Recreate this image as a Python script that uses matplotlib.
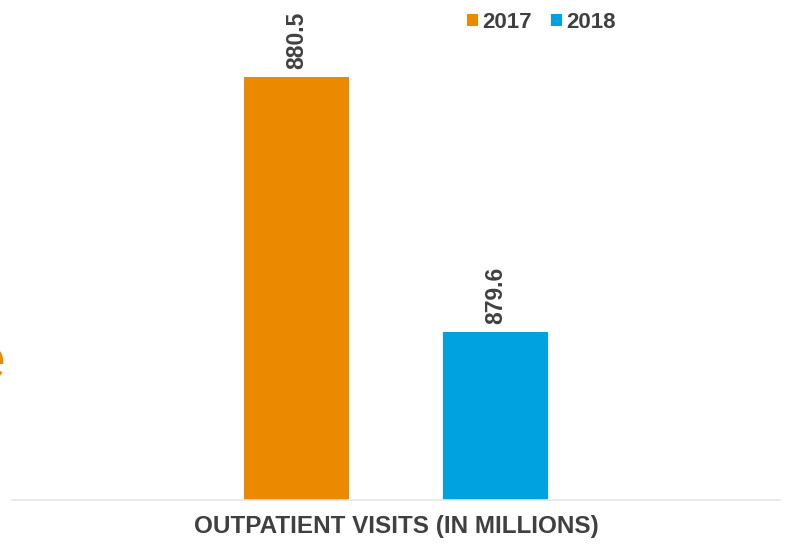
import matplotlib
matplotlib.use("Agg")
import matplotlib.pyplot as plt

years = ["2017", "2018"]
values = [880.5, 879.6]
colors = ["#EB8A00", "#00A3E0"]
category = "OUTPATIENT VISITS (IN MILLIONS)"

plt.rcParams['font.family'] = ['Liberation Sans', 'DejaVu Sans']
fig = plt.figure(figsize=(7.85, 5.5), dpi=100)
ax = fig.add_axes([12/785, 50/550, 768/785, 500/550])

offsets = [-0.5, 0.5]
width = 0.528
for off, v, c, lab in zip(offsets, values, colors, years):
    ax.bar(off, v - 879.007, bottom=879.007, width=width, color=c, label=lab)
    ax.text(off, v + 0.03, f"{v:.1f}", rotation=90, ha='center', va='bottom',
            fontsize=16.5, fontweight='bold', color='#404040')

ax.set_xlim(-1.93, 1.93)
ax.set_ylim(879.007, 880.772)
for s in ['top', 'right', 'left']:
    ax.spines[s].set_visible(False)
ax.spines['bottom'].set_color('#e6e6e6')
ax.spines['bottom'].set_linewidth(1.2)
ax.set_xticks([])
ax.set_yticks([])
ax.set_xlabel(category, fontsize=17.5, fontweight='bold', color='#404040', labelpad=11)

leg = ax.legend(loc='upper center', bbox_to_anchor=(0.689, 1.016), ncol=2, frameon=False,
                handlelength=0.5, handleheight=0.5, handletextpad=0.2, columnspacing=0.85,
                prop={'weight': 'bold', 'size': 16})
for t in leg.get_texts():
    t.set_color('#404040')

fig.text(5/785, 1 - 364/550, "e", color="#EB8A00", fontsize=44, ha='right', va='center')

fig.savefig("out.png", dpi=100)
